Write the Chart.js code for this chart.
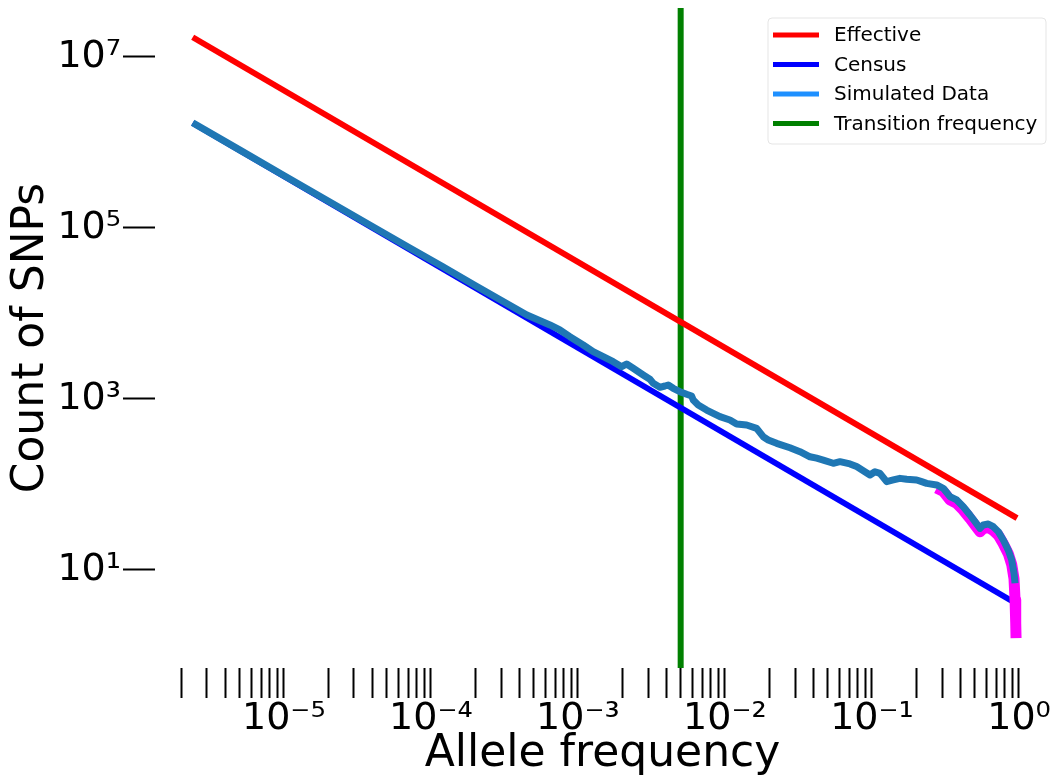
<!DOCTYPE html>
<html>
<head>
<meta charset="utf-8">
<script src="https://cdn.jsdelivr.net/npm/chart.js@4.4.0/dist/chart.umd.min.js"></script>
<style>
  html, body { margin: 0; padding: 0; background: #fff; }
  #wrap { width: 1050px; height: 780px; position: relative; }
</style>
</head>
<body>
<div id="wrap"><canvas id="sfs"></canvas></div>
<script>
// site frequency spectrum, log-log

// theory lines are straight on log-log, so just the two end points
var effectiveFreq = [2.4e-6, 0.97];
var effectiveCount = [1.7e7, 40.5];
var censusFreq = [2.4e-6, 0.97];
var censusCount = [1.69e6, 4.0];

// simulated spectrum
var simFreq = [2.4e-6, 5.0e-6, 1.0e-5, 2.0e-5, 4.0e-5, 7.0e-5, 1.2e-4, 2.0e-4, 3.0e-4, 4.5e-4,
  6.45e-4, 7.54e-4, 8.82e-4, 1.087e-3, 1.271e-3, 1.487e-3, 1.738e-3, 1.983e-3, 2.145e-3, 2.378e-3,
  2.781e-3, 3.089e-3, 3.252e-3, 3.613e-3, 3.906e-3, 4.114e-3, 4.449e-3, 4.942e-3, 5.489e-3, 5.936e-3,
  6.087e-3, 6.582e-3, 7.507e-3, 8.326e-3, 9.247e-3, 1.081e-2, 1.201e-2, 1.405e-2, 1.643e-2, 1.821e-2,
  1.970e-2, 2.247e-2, 2.768e-2, 3.237e-2, 3.786e-2, 4.205e-2, 4.664e-2, 5.454e-2, 6.058e-2, 7.086e-2,
  7.866e-2, 8.726e-2, 9.692e-2, 0.1048, 0.1133, 0.1259, 0.1396, 0.1550, 0.1722, 0.2014,
  0.2178, 0.2355, 0.2754, 0.3055, 0.3393, 0.3770, 0.4180, 0.4642, 0.5020, 0.5429,
  0.5716, 0.6182, 0.6686, 0.7231, 0.7819, 0.8457, 0.8919, 0.9247, 0.9393];
var simCount = [1.70e6, 8.2e5, 4.12e5, 2.07e5, 1.04e5, 6.0e4, 3.55e4, 2.12e4, 1.43e4, 9.6e3,
  7340, 6412, 5355, 4279, 3573, 3124, 2731, 2387, 2567, 2287,
  1909, 1700, 1526, 1370, 1419, 1458, 1334, 1217, 1135, 1084,
  973, 851, 743, 680, 621, 568, 510, 496, 454, 362,
  332, 303, 269, 242, 211, 203, 193, 177, 185, 174,
  162, 145, 129, 141, 135, 108, 113, 118, 115, 113,
  108, 103, 98.7, 90.3, 72.0, 65.9, 55.0, 44.0, 36.7, 30.7,
  33.6, 34.5, 32.1, 28.1, 22.4, 17.1, 13.1, 9.2, 7.0];

// magenta trace showing under the high-frequency end
var tailFreq = [0.2754, 0.3055, 0.3393, 0.3770, 0.4180, 0.4642, 0.5020, 0.5429, 0.5716, 0.6182,
  0.6686, 0.7231, 0.7819, 0.8457, 0.8919, 0.9247, 0.94, 0.95, 0.955];
var tailCount = [90.8, 83, 66, 60, 50, 40, 33.5, 28, 30.5, 31.5,
  29, 25.5, 20.3, 15.5, 11.6, 7.9, 4.5, 2.4, 1.6];

var transitionFreq = 0.005;

// axes
var xMajor = [1e-5, 1e-4, 1e-3, 1e-2, 1e-1, 1];
var xMajorLabels = ['10⁻⁵', '10⁻⁴', '10⁻³', '10⁻²', '10⁻¹', '10⁰'];
var yMajor = [10, 1e3, 1e5, 1e7];
var yMajorLabels = ['10¹', '10³', '10⁵', '10⁷'];
var xMin = 1.33e-6, xMax = 1.625;
var yMin = 0.714, yMax = 3.74e7;

// x ticks: every 1..9 x 10^e inside the range
var xTicks = [];
for (var e = -6; e <= 0; e++) {
  for (var k = 1; k <= 9; k++) {
    var v = k === 1 ? Math.pow(10, e) : k * Math.pow(10, e);
    if (v >= xMin && v <= xMax) xTicks.push(v);
  }
}
xTicks = xTicks.map(function (v) {
  var i = xMajor.findIndex(function (m) { return Math.abs(m - v) / m < 1e-9; });
  return i >= 0 ? xMajor[i] : v;
});

function pts(xs, ys) {
  return xs.map(function (x, i) { return {x: x, y: ys[i]}; });
}

Chart.defaults.font.family = "'DejaVu Sans', sans-serif";
Chart.defaults.color = '#000';

// matplotlib style legend box in the top right corner
var cornerLegend = {
  id: 'cornerLegend',
  afterDraw: function (chart) {
    var ctx = chart.ctx;
    var area = chart.chartArea;
    var items = chart.data.datasets.filter(function (d) { return d.label; });
    var w = 278, rowH = 29.5;
    var h = items.length * rowH + 8;
    var left = area.right - w - 4, top = area.top + 10;
    ctx.save();
    ctx.fillStyle = 'rgba(255,255,255,0.8)';
    ctx.strokeStyle = 'rgba(204,204,204,0.5)';
    ctx.lineWidth = 1;
    ctx.beginPath();
    ctx.roundRect(left, top, w, h, 4);
    ctx.fill();
    ctx.stroke();
    ctx.font = '20px "DejaVu Sans"';
    ctx.textBaseline = 'middle';
    ctx.textAlign = 'left';
    items.forEach(function (d, i) {
      var y = top + 17 + i * rowH;
      ctx.strokeStyle = d.legendColor || d.borderColor;
      ctx.lineWidth = 5;
      ctx.beginPath();
      ctx.moveTo(left + 5, y);
      ctx.lineTo(left + 51, y);
      ctx.stroke();
      ctx.fillStyle = '#000';
      ctx.fillText(d.label, left + 66, y + 1);
    });
    ctx.restore();
  }
};

new Chart(document.getElementById('sfs'), {
  type: 'line',
  data: {
    datasets: [
      {label: 'Effective', data: pts(effectiveFreq, effectiveCount),
        borderColor: '#ff0000', borderWidth: 6, order: 3},
      {label: 'Census', data: pts(censusFreq, censusCount),
        borderColor: '#0000ff', borderWidth: 6, order: 4},
      {label: 'Simulated Data', data: pts(simFreq, simCount),
        borderColor: '#1f77b4', legendColor: '#1e90ff', borderWidth: 7, order: 1},
      {label: 'Transition frequency', data: [{x: transitionFreq, y: yMin}, {x: transitionFreq, y: yMax}],
        borderColor: '#008000', borderWidth: 6, order: 5},
      {label: '', data: pts(tailFreq, tailCount),
        borderColor: '#ff00ff', borderWidth: 11, order: 2}
    ]
  },
  options: {
    animation: false,
    responsive: true,
    maintainAspectRatio: false,
    layout: {padding: {top: 8, left: 0, right: 0, bottom: 0}},
    elements: {
      point: {radius: 0, hoverRadius: 0},
      line: {tension: 0, borderJoinStyle: 'round', borderCapStyle: 'butt'}
    },
    plugins: {legend: {display: false}, tooltip: {enabled: false}},
    scales: {
      x: {
        type: 'logarithmic',
        min: xMin, max: xMax, bounds: 'data',
        border: {display: false},
        grid: {drawOnChartArea: false, drawTicks: true, tickLength: 30, tickWidth: 2, tickColor: '#000'},
        ticks: {
          autoSkip: false, maxRotation: 0, minRotation: 0, padding: -2,
          font: {size: 38},
          callback: function (value) {
            var i = xMajor.indexOf(value);
            return i >= 0 ? xMajorLabels[i] : '';
          }
        },
        title: {display: true, text: 'Allele frequency', font: {size: 44}, padding: {top: 0, bottom: -1}},
        afterBuildTicks: function (scale) {
          scale.ticks = xTicks.map(function (v) { return {value: v}; });
        },
        afterFit: function (scale) {
          scale.height = 112;
          scale.paddingLeft = 0;
          scale.paddingRight = 0;
        }
      },
      y: {
        type: 'logarithmic',
        min: yMin, max: yMax, bounds: 'data',
        border: {display: false},
        grid: {drawOnChartArea: false, drawTicks: true, tickLength: 32, tickWidth: 2, tickColor: '#000'},
        ticks: {
          padding: 2,
          font: {size: 38},
          callback: function (value) {
            var i = yMajor.indexOf(value);
            return i >= 0 ? yMajorLabels[i] : '';
          }
        },
        title: {display: true, text: 'Count of SNPs', font: {size: 44}, padding: {top: 5, bottom: 0}},
        afterBuildTicks: function (scale) {
          scale.ticks = yMajor.map(function (v) { return {value: v}; });
        },
        afterFit: function (scale) {
          scale.width = 155;
          scale.paddingTop = 0;
          scale.paddingBottom = 0;
        }
      }
    }
  },
  plugins: [cornerLegend]
});
</script>
</body>
</html>
